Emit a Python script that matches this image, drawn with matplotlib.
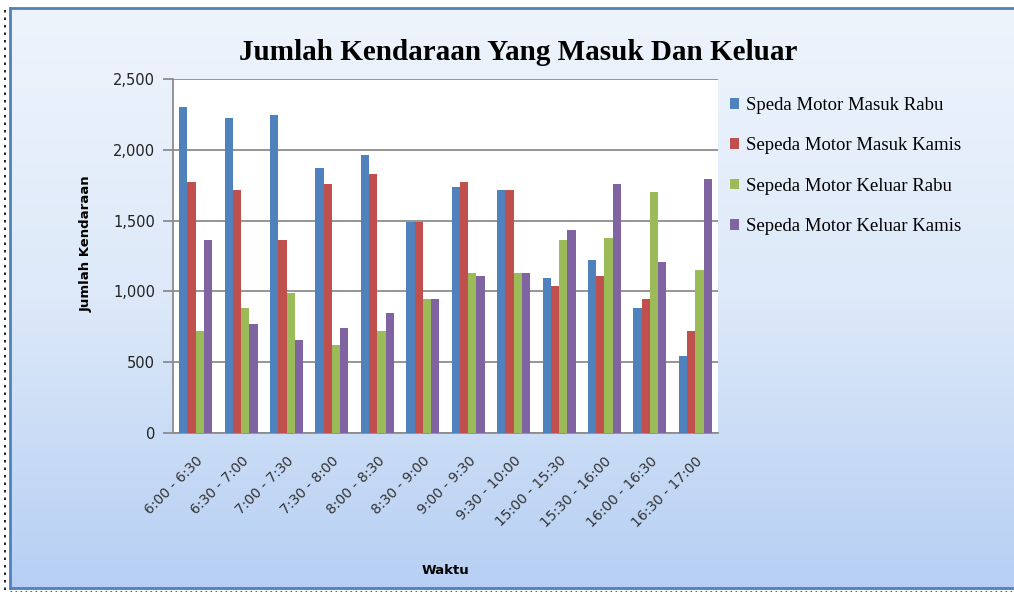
import matplotlib
matplotlib.use('Agg')
import matplotlib.pyplot as plt
import numpy as np
from matplotlib.colors import LinearSegmentedColormap
from matplotlib.lines import Line2D
from matplotlib.patches import Patch
from matplotlib.ticker import FuncFormatter

categories = ["6:00 - 6:30", "6:30 - 7:00", "7:00 - 7:30", "7:30 - 8:00",
              "8:00 - 8:30", "8:30 - 9:00", "9:00 - 9:30", "9:30 - 10:00",
              "15:00 - 15:30", "15:30 - 16:00", "16:00 - 16:30", "16:30 - 17:00"]
masuk_rabu = [2300, 2225, 2245, 1870, 1965, 1490, 1740, 1715, 1095, 1225, 885, 545]
masuk_kamis = [1775, 1715, 1360, 1755, 1830, 1490, 1775, 1715, 1040, 1110, 945, 720]
keluar_rabu = [720, 885, 990, 625, 720, 945, 1130, 1130, 1360, 1375, 1700, 1150]
keluar_kamis = [1360, 770, 660, 740, 850, 945, 1110, 1130, 1435, 1755, 1210, 1795]
series_names = ["Speda Motor Masuk Rabu", "Sepeda Motor Masuk Kamis",
                "Sepeda Motor Keluar Rabu", "Sepeda Motor Keluar Kamis"]
colors = ["#4F81BD", "#C0504D", "#9BBB59", "#8064A2"]
y_ticks = [0, 500, 1000, 1500, 2000, 2500]

W, H = 1014, 592
fig = plt.figure(figsize=(W / 100, H / 100), dpi=100)
fig.patch.set_facecolor("white")

# gradient background inside the chart frame
bg = fig.add_axes([10 / W, 1 - 588 / H, (W - 10) / W, (588 - 8) / H], zorder=0)
cmap = LinearSegmentedColormap.from_list("bg", ["#eef4fc", "#dde9f9", "#b6cff3"])
grad = np.linspace(0, 1, 256).reshape(-1, 1)
bg.imshow(grad, aspect="auto", cmap=cmap, extent=[0, 1, 0, 1], origin="upper")
bg.set_axis_off()

# frame lines
fig.add_artist(Line2D([10 / W, 1], [1 - 8 / H, 1 - 8 / H], color="#4F81BD", lw=2, transform=fig.transFigure))
fig.add_artist(Line2D([10 / W, 10 / W], [1 - 8 / H, 1 - 588 / H], color="#4F81BD", lw=2, transform=fig.transFigure))
fig.add_artist(Line2D([10 / W, 1], [1 - 588 / H, 1 - 588 / H], color="#4F81BD", lw=2, transform=fig.transFigure))
fig.add_artist(Line2D([5 / W, 5 / W], [1 - 10 / H, 0], color="black", lw=1.2, ls=(0, (1.5, 3)), transform=fig.transFigure))
fig.add_artist(Line2D([10 / W, 1], [1.5 / H, 1.5 / H], color="#666666", lw=0.8, ls=(0, (1.5, 3)), transform=fig.transFigure))

ax = fig.add_axes([173 / W, 1 - 433 / H, 545 / W, 354 / H], zorder=2)
ax.set_facecolor("white")

x = np.arange(len(categories))
w = 1 / 5.5
all_series = [masuk_rabu, masuk_kamis, keluar_rabu, keluar_kamis]
for i, (vals, c, name) in enumerate(zip(all_series, colors, series_names)):
    ax.bar(x + (i - 1.5) * w, vals, width=w, color=c, label=name, zorder=3, linewidth=0)

ax.set_xlim(-0.5, len(categories) - 0.5)
ax.set_ylim(0, 2500)
ax.set_yticks(y_ticks)
ax.yaxis.set_major_formatter(FuncFormatter(lambda v, p: f"{int(v):,}"))
ax.grid(axis="y", color="#8c8c8c", lw=1.3, zorder=1)
ax.set_axisbelow(True)
for s in ["top", "right"]:
    ax.spines[s].set_visible(False)
for s in ["left", "bottom"]:
    ax.spines[s].set_color("#8c8c8c")
    ax.spines[s].set_linewidth(1.3)
ax.tick_params(axis="y", length=7, width=1.3, color="#8c8c8c", labelsize=10.5, labelcolor="#222222", pad=6)
ax.tick_params(axis="x", length=0, labelsize=10, labelcolor="#333333", pad=15)
ax.set_xticks(x)
ax.set_xticklabels(categories, rotation=45, ha="right", rotation_mode="anchor")

ax.set_ylabel("Jumlah Kendaraan", fontsize=9.5, fontweight="bold")
ax.yaxis.set_label_coords(-0.148, 0.535)
fig.text(445 / W, 1 - 570 / H, "Waktu", ha="center", va="center", fontsize=9.5, fontweight="bold")

fig.text(518 / W, 1 - 52 / H, "Jumlah Kendaraan Yang Masuk Dan Keluar", ha="center", va="center",
         fontsize=21, fontweight="bold", family="Liberation Serif")

handles = [Patch(facecolor=c, edgecolor="none") for c in colors]
leg = fig.legend(handles, series_names, loc="upper left", bbox_to_anchor=(713 / W, 1 - 80 / H),
                 frameon=False, prop={"family": "Liberation Serif", "size": 13.5},
                 handlelength=0.5, handleheight=0.5, handletextpad=0.35, labelspacing=1.25)

fig.savefig("out.png", dpi=100)
